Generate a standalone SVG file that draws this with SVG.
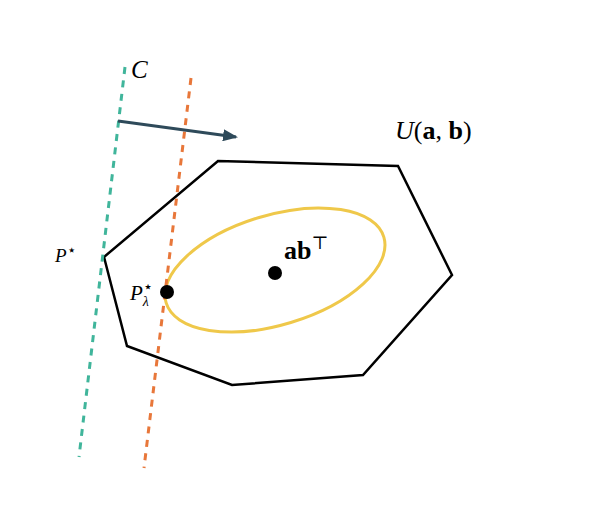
<svg xmlns="http://www.w3.org/2000/svg" width="599" height="509" viewBox="0 0 599 509">
<style>
.lbl{font-family:"Liberation Serif","DejaVu Serif",serif;fill:#000}
.it{font-style:italic}
.bd{font-weight:bold}
.dash{fill:none;stroke-width:3;stroke-dasharray:7 6.5}
</style>
<defs>
<marker id="ah" markerWidth="15" markerHeight="12" refX="13" refY="6" orient="auto" markerUnits="userSpaceOnUse" viewBox="0 0 15 12">
<path d="M0,0 L15,6 L0,12 Z" fill="#2e4a5a"/>
</marker>
</defs>
<rect width="599" height="509" fill="#fff"/>
<g id="polygon-U">
<polygon points="104,257 218,161 398,166 452,275 363,375 232,385 127,346" fill="none" stroke="#000" stroke-width="2.5" stroke-linejoin="miter"/>
<text class="lbl" x="395" y="139" font-size="26"><tspan class="it">U</tspan>(<tspan class="bd">a</tspan>, <tspan class="bd">b</tspan>)</text>
</g>
<g id="ellipse">
<ellipse cx="275" cy="270" rx="113.7" ry="54.9" transform="rotate(-16.8 275 270)" fill="none" stroke="#efc84a" stroke-width="3"/>
</g>
<g id="connectors">
<line id="line-C" class="dash" x1="125" y1="67" x2="79" y2="457" stroke="#40b59b"/>
<line id="line-orange" class="dash" x1="191" y1="78" x2="144" y2="468" stroke="#e8773a"/>
<line id="arrow" x1="118" y1="121" x2="236" y2="137" stroke="#2e4a5a" stroke-width="3" marker-end="url(#ah)"/>
</g>
<g id="label-C">
<text class="lbl it" x="131" y="78" font-size="25">C</text>
</g>
<g id="node-Pstar">
<text class="lbl" x="55" y="262" font-size="19"><tspan class="it">P</tspan><tspan font-size="15" dy="-7">⋆</tspan></text>
</g>
<g id="node-Plambda">
<circle cx="167" cy="292" r="7" fill="#000"/>
<text class="lbl" x="130" y="300" font-size="21"><tspan class="it">P</tspan><tspan font-size="16" dy="-8">⋆</tspan><tspan class="it" font-size="14" dx="-10" dy="14">λ</tspan></text>
</g>
<g id="node-abT">
<circle cx="275" cy="273" r="7" fill="#000"/>
<text class="lbl" x="284" y="259" font-size="26"><tspan class="bd">ab</tspan><tspan font-size="18" dy="-10">⊤</tspan></text>
</g>
</svg>
